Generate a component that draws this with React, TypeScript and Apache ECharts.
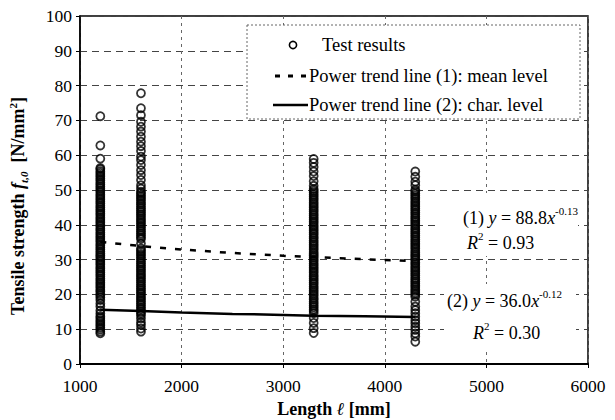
import React, { useEffect, useRef } from "react";
import * as echarts from "echarts";

const lengths = [1200, 1600, 3300, 4300];

const strength1200 = [
  8.8, 9.3, 9.9, 10.4, 11.0, 11.5, 12.1, 12.6, 13.2, 13.7, 14.5, 15.4, 16.5, 17.4, 18.4,
  19.1, 19.7, 20.2, 20.8, 21.3, 21.9, 22.4, 23.0, 23.5, 24.1, 24.6, 25.2, 25.7, 26.3, 26.8,
  27.4, 27.9, 28.5, 29.0, 29.6, 30.1, 30.7, 31.2, 31.8, 32.3, 32.9, 33.4, 34.0, 34.5, 35.1,
  35.6, 36.2, 36.7, 37.3, 37.8, 38.4, 38.9, 39.5, 40.0, 40.6, 41.1, 41.7, 42.2, 42.8, 43.3,
  43.9, 44.4, 45.0, 45.5, 46.1, 46.6, 47.2, 47.7, 48.3, 48.8, 49.4, 49.9, 50.5, 51.0, 51.6,
  52.1, 52.7, 53.2, 53.8, 54.3, 54.9, 55.4, 56.0, 56.3, 59.0, 62.8, 71.2,
];

const strength1600 = [
  9.3, 10.2, 11.2, 12.0, 13.1, 14.0, 14.6, 15.1, 15.7, 16.2, 16.8, 17.3, 17.9, 18.4, 19.0,
  19.5, 20.1, 20.6, 21.2, 21.7, 22.3, 22.8, 23.4, 23.9, 24.5, 25.0, 25.6, 26.1, 26.7, 27.2,
  27.8, 28.3, 28.9, 29.4, 30.0, 30.5, 31.1, 31.6, 32.2, 32.7, 33.2, 34.6, 35.9, 36.4, 37.0,
  37.5, 38.1, 38.6, 39.2, 39.7, 40.3, 40.8, 41.4, 41.9, 42.5, 43.0, 43.6, 44.1, 44.7, 45.2,
  45.8, 46.3, 46.9, 47.4, 48.0, 48.5, 49.1, 49.5, 50.4, 51.4, 52.9, 54.3, 55.7, 57.2, 58.6,
  59.6, 61.2, 62.6, 63.9, 65.3, 66.8, 68.2, 69.6, 71.5, 73.5, 77.8,
];

const strength3300 = [
  8.9, 10.3, 11.8, 13.2, 14.6, 15.2, 15.7, 16.3, 16.8, 17.4, 17.9, 18.5, 19.0, 19.6, 20.1,
  20.7, 21.2, 21.8, 22.3, 22.9, 23.4, 24.0, 24.5, 25.1, 25.6, 26.2, 26.7, 27.3, 27.8, 28.4,
  28.9, 29.5, 30.0, 30.6, 31.1, 31.7, 32.2, 32.8, 33.3, 33.9, 34.4, 35.0, 35.5, 36.1, 36.6,
  37.2, 37.7, 38.3, 38.8, 39.4, 39.9, 40.5, 41.0, 41.6, 42.1, 42.7, 43.2, 43.8, 44.3, 44.9,
  45.4, 46.0, 46.5, 47.1, 47.6, 48.2, 48.7, 49.3, 49.8, 50.3, 51.2, 52.5, 54.0, 55.3, 56.6,
  57.8, 58.9,
];

const strength4300 = [
  6.4, 7.9, 8.8, 9.8, 10.7, 11.7, 12.6, 13.6, 14.6, 15.5, 16.5, 17.9, 19.3, 19.9, 20.4,
  21.0, 21.5, 22.1, 22.6, 23.2, 23.7, 24.3, 24.8, 25.4, 25.9, 26.5, 27.0, 27.6, 28.1, 28.7,
  29.2, 29.8, 30.3, 30.9, 31.4, 32.0, 32.5, 33.1, 33.6, 34.2, 34.7, 35.3, 35.8, 36.4, 36.9,
  37.5, 38.0, 38.6, 39.1, 39.7, 40.2, 40.8, 41.3, 41.9, 42.4, 43.0, 43.5, 44.1, 44.6, 45.2,
  45.7, 46.3, 46.8, 47.4, 47.9, 48.5, 49.0, 49.6, 50.1, 51.4, 52.4, 53.8, 55.3,
];

const trendX = [1200, 1600, 2000, 2500, 3000, 3300, 3800, 4300];
const trendMean = [35.1, 33.9, 32.9, 31.9, 31.1, 30.7, 30.1, 29.6];
const trendChar = [15.6, 15.2, 14.8, 14.4, 14.1, 13.9, 13.7, 13.5];

const seriesNames = [
  "Test results",
  "Power trend line (1): mean level",
  "Power trend line (2): char. level",
];

const FONT = "Liberation Serif";

export default function App() {
  const ref = useRef<HTMLDivElement>(null);

  useEffect(() => {
    const chart = echarts.init(ref.current!, null, { renderer: "svg" });
    const columns = [strength1200, strength1600, strength3300, strength4300];
    const testData: number[][] = [];
    columns.forEach((arr, i) => arr.forEach((v) => testData.push([lengths[i], v])));

    const txt = (text: string, x: number, y: number, rich?: any, z = 12) => ({
      type: "text",
      z,
      style: {
        text: rich ? text : "{n|" + text + "}",
        x,
        y,
        align: "left",
        textAlign: "left",
        verticalAlign: "middle",
        textVerticalAlign: "middle",
        fill: "#000",
        fontFamily: FONT,
        fontSize: 18.5,
        rich: rich || { n: { fontFamily: FONT, fontSize: 18.5, color: "#000" } },
      },
    });

    const annRich = {
      n: { fontFamily: FONT, fontSize: 18, lineHeight: 26, color: "#000" },
      i: { fontFamily: FONT, fontSize: 18, fontStyle: "italic", lineHeight: 26, color: "#000" },
      s: { fontFamily: FONT, fontSize: 11, lineHeight: 12, verticalAlign: "top", color: "#000" },
    };

    const tickLabel = {
      color: "#000",
      fontFamily: FONT,
      fontSize: 17.5,
    };

    chart.setOption({
      animation: false,
      backgroundColor: "#fff",
      textStyle: { fontFamily: FONT },
      grid: {
        left: 80,
        right: 27,
        top: 16,
        bottom: 56,
        show: true,
        borderColor: "#000",
        borderWidth: 1.5,
        backgroundColor: "transparent",
        containLabel: false,
        outerBoundsMode: "none",
      },
      xAxis: {
        type: "value",
        min: 1000,
        max: 6000,
        interval: 1000,
        name: "{b|Length }{i|ℓ}{b| [mm]}",
        nameLocation: "middle",
        nameGap: 28,
        nameTextStyle: {
          rich: {
            b: { fontFamily: FONT, fontSize: 18, fontWeight: "bold", color: "#000" },
            i: { fontFamily: FONT, fontSize: 18, fontWeight: "bold", fontStyle: "italic", color: "#000" },
          },
        },
        axisLine: { show: true, lineStyle: { color: "#000", width: 2 } },
        axisTick: { show: true, length: 4, lineStyle: { color: "#000" } },
        axisLabel: {
          ...tickLabel,
          margin: 13,
          formatter: (v: number) => "{t|" + String(v) + "}",
          rich: { t: tickLabel },
        },
        splitLine: { show: true, lineStyle: { color: "#666", width: 1, type: [3, 4] } },
      },
      yAxis: {
        type: "value",
        min: 0,
        max: 100,
        interval: 10,
        name: "{b|Tensile strength }{bi|f}{sub|t,0}{b|  [N/mm}{sup|2}{b|]}",
        nameLocation: "middle",
        nameRotate: 90,
        nameGap: 51,
        nameTextStyle: {
          padding: [0, 32, 0, 0],
          rich: {
            b: { fontFamily: FONT, fontSize: 18, fontWeight: "bold", lineHeight: 22, color: "#000" },
            bi: { fontFamily: FONT, fontSize: 18, fontWeight: "bold", fontStyle: "italic", lineHeight: 22, color: "#000" },
            sub: { fontFamily: FONT, fontSize: 11, fontWeight: "bold", fontStyle: "italic", lineHeight: 12, verticalAlign: "bottom", color: "#000" },
            sup: { fontFamily: FONT, fontSize: 11, fontWeight: "bold", lineHeight: 12, verticalAlign: "top", color: "#000" },
          },
        },
        axisLine: { show: true, lineStyle: { color: "#000", width: 1.5 } },
        axisTick: { show: true, length: 4, lineStyle: { color: "#000" } },
        axisLabel: {
          ...tickLabel,
          margin: 8,
          formatter: (v: number) => "{t|" + String(v) + "}",
          rich: { t: tickLabel },
        },
        splitLine: { show: true, lineStyle: { color: "#444", width: 1, type: [7, 5] } },
      },
      series: [
        {
          name: seriesNames[0],
          type: "scatter",
          data: testData,
          symbol: "circle",
          symbolSize: 8,
          itemStyle: { color: "rgba(255,255,255,0)", borderColor: "#000", borderWidth: 1.8 },
          z: 3,
        },
        {
          name: seriesNames[1],
          type: "line",
          data: trendX.map((x, i) => [x, trendMean[i]]),
          symbol: "none",
          lineStyle: { color: "#000", width: 2.5, type: [6, 9] },
          z: 2,
        },
        {
          name: seriesNames[2],
          type: "line",
          data: trendX.map((x, i) => [x, trendChar[i]]),
          symbol: "none",
          lineStyle: { color: "#000", width: 2.5 },
          z: 2,
        },
      ],
      graphic: [
        {
          type: "rect",
          z: 10,
          shape: { x: 247, y: 25, width: 333, height: 94 },
          style: { fill: "#fff", stroke: "#666", lineWidth: 1, lineDash: [2, 2] },
        },
        {
          type: "circle",
          z: 11,
          shape: { cx: 293, cy: 45, r: 3.6 },
          style: { fill: "#fff", stroke: "#000", lineWidth: 1.6 },
        },
        {
          type: "line",
          z: 11,
          shape: { x1: 275, y1: 76, x2: 308, y2: 76 },
          style: { stroke: "#000", lineWidth: 3, lineDash: [5, 8] },
        },
        {
          type: "line",
          z: 11,
          shape: { x1: 273, y1: 105, x2: 308, y2: 105 },
          style: { stroke: "#000", lineWidth: 2.5 },
        },
        txt(seriesNames[0], 322, 45),
        txt(seriesNames[1], 309, 76),
        txt(seriesNames[2], 309, 105),
        {
          type: "rect",
          z: 10,
          shape: { x: 437, y: 193, width: 141, height: 63 },
          style: { fill: "#fff" },
        },
        {
          type: "rect",
          z: 10,
          shape: { x: 444, y: 284, width: 132, height: 65 },
          style: { fill: "#fff" },
        },
        txt("{n|(1) }{i|y}{n| = 88.8}{i|x}{s|-0.13}", 463, 218, annRich),
        txt("{i|R}{s|2}{n| = 0.93}", 467, 243, annRich),
        txt("{n|(2) }{i|y}{n| = 36.0}{i|x}{s|-0.12}", 447, 301, annRich),
        txt("{i|R}{s|2}{n| = 0.30}", 473, 333, annRich),
      ],
    });
    return () => chart.dispose();
  }, []);

  return (
    <div
      ref={ref}
      style={{ position: "fixed", left: 0, top: 0, width: 615, height: 420 }}
    />
  );
}
